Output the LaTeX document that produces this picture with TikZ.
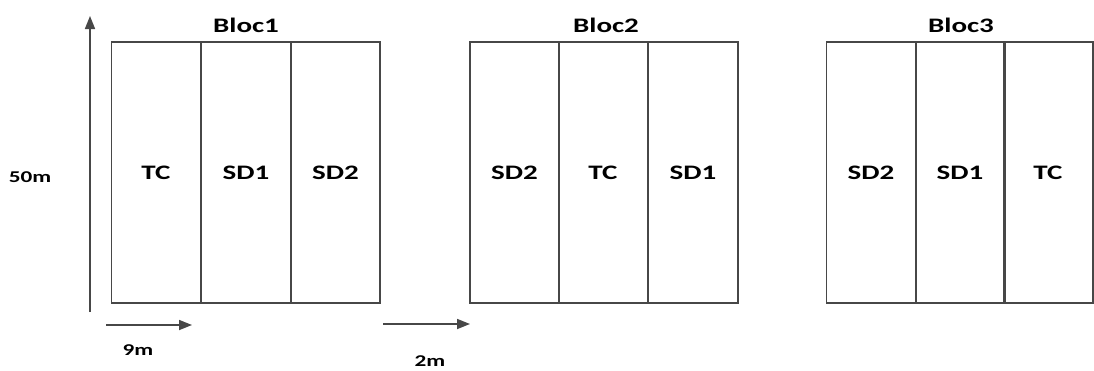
\documentclass[tikz,border=0pt]{standalone}
\usepackage{fontspec}
\setmainfont{Carlito}
\usetikzlibrary{arrows.meta}
\newcommand{\widetext}[1]{\scalebox{1.45}[1.03]{#1}}
\begin{document}
\begin{tikzpicture}[x=1pt,y=-1pt,
  cell/.style={draw=black!72, line width=1.7pt, rectangle, minimum width=89.3pt, minimum height=261pt, inner sep=0pt, font=\fontsize{20}{24}\selectfont\bfseries},
  title/.style={font=\fontsize{20}{24}\selectfont\bfseries, inner sep=0pt},
  dim/.style={font=\fontsize{16}{19}\selectfont\bfseries, inner sep=0pt},
  arr/.style={draw=black!72, line width=1.7pt, -{Triangle[length=13pt,width=10pt]}}]
\useasboundingbox (0,0) rectangle (1094,370);
% Bloc1
\node[cell] (a1) at (156,172.5) {\widetext{TC}};
\node[cell] (a2) at (246,172.5) {\widetext{SD1}};
\node[cell] (a3) at (335.5,172.5) {\widetext{SD2}};
% Bloc2
\node[cell] (b1) at (514.5,172.5) {\widetext{SD2}};
\node[cell] (b2) at (603,172.5) {\widetext{TC}};
\node[cell] (b3) at (693,172.5) {\widetext{SD1}};
% Bloc3
\node[cell] (c1) at (871,172.5) {\widetext{SD2}};
\node[cell] (c2) at (960,172.5) {\widetext{SD1}};
\node[cell] (c3) at (1048,172.5) {\widetext{TC}};
% titles
\node[title] (t1) at (246,25) {\widetext{Bloc1}};
\node[title] (t2) at (606,25) {\widetext{Bloc2}};
\node[title] (t3) at (961,25) {\widetext{Bloc3}};
% dimensions
\coordinate (v0) at (90,312);
\coordinate (v1) at (90,16);
\draw[arr] (v0) -- (v1);
\node[dim] (h50) at (30,177) {\widetext{50m}};
\coordinate (n0) at (106,325);
\coordinate (n1) at (192,325);
\draw[arr] (n0) -- (n1);
\node[dim] (h9) at (138,350) {\widetext{9m}};
\coordinate (m0) at (383,324);
\coordinate (m1) at (470,324);
\draw[arr] (m0) -- (m1);
\node[dim] (h2) at (430,361) {\widetext{2m}};
\end{tikzpicture}
\end{document}
